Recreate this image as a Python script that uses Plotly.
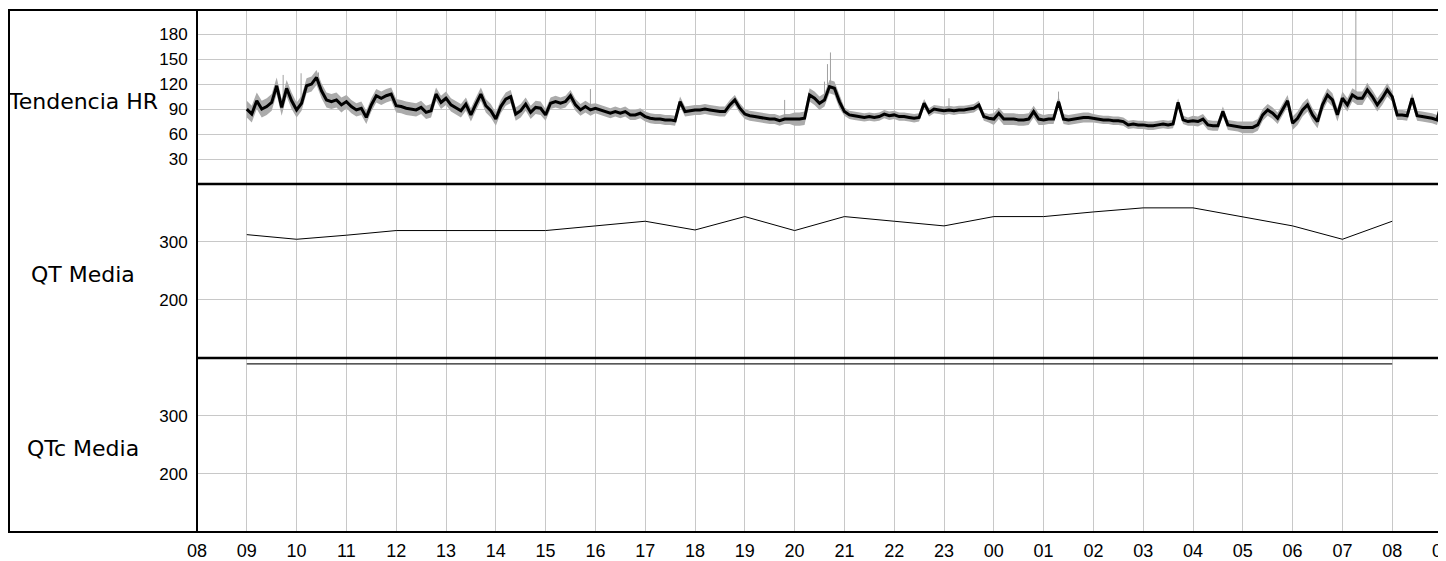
import numpy as np
import plotly.graph_objects as go

# ---------------- data ----------------
hour_labels = ["08", "09", "10", "11", "12", "13", "14", "15", "16", "17", "18", "19",
               "20", "21", "22", "23", "00", "01", "02", "03", "04", "05", "06", "07",
               "08", "09"]

# smoothed HR trend, one value every 6 minutes from 09:00 to 09:00 (next day)
hr_start_hour = 1.0      # hours after 08:00
hr_step_hour = 0.1
hr_mean = [
    90, 84, 100, 90, 93, 98, 118, 92, 115, 100,
    89, 97, 118, 120, 128, 112, 101, 99, 101, 95,
    99, 93, 89, 91, 80, 95, 106, 103, 106, 108,
    94, 93, 91, 90, 89, 92, 86, 88, 108, 98,
    103, 95, 92, 88, 96, 83, 96, 108, 94, 88,
    78, 93, 102, 105, 84, 88, 96, 86, 92,
    91, 83, 97, 99, 97, 99, 106, 95, 89, 93,
    89, 91, 89, 87, 85, 87, 85, 87, 83, 83,
    85, 81, 79, 78, 78, 77, 77, 76, 99, 87,
    88, 89, 89, 90, 89, 88, 87, 87, 95, 101,
    91, 84, 82, 81, 80, 79, 78, 78, 76, 78,
    78, 78, 78, 79, 107, 103, 97, 101, 117,
    115, 99, 87, 83, 82, 81, 80, 81, 80, 81,
    84, 82, 83, 81, 81, 80, 79, 80, 97, 86,
    90, 89, 88, 89, 88, 89, 89, 90, 91, 95,
    81, 79, 78, 85, 78, 78, 78, 77, 77, 78,
    87, 78, 77, 78, 78, 99, 78, 77, 78, 79,
    80, 80, 79, 78, 77, 77, 76, 76, 75, 71,
    72, 71,
    71, 70, 70, 71, 72, 71, 72, 98, 77, 75,
    76, 75, 78, 71, 70, 70, 87, 71, 70, 69,
    68, 68, 68, 71, 83, 89, 85, 79, 89, 100,
    73, 79, 89, 95, 83, 75, 95, 107, 101, 83,
    103, 95, 107, 103, 103, 113, 105, 95, 103, 113,
    105, 83, 83, 82, 103, 82, 81, 80, 79, 77,
    99,
]

# half-width of the grey beat-to-beat scatter, per hour (09..08)
hr_spread = [10, 9, 8, 8, 8, 8, 7, 6, 6, 6, 6, 8,
             5, 5, 5, 7, 6, 5, 5, 6, 7, 8, 8, 6]

# isolated tall grey beat-to-beat spikes (hour after 08:00, top value)
spike_hours = [1.73, 2.09, 2.44, 7.9, 11.8, 12.6, 12.66, 12.72, 15.1, 17.3, 23.27, 23.5]
spike_tops = [131, 133, 134, 114, 101, 123, 144, 158, 103, 111, 209, 121]

qt_hours = list(range(1, 25))   # 09 .. 08
qt_values = [312, 304, 311, 319, 319, 319, 319, 327, 335, 320, 343, 319,
             343, 335, 327, 343, 343, 351, 358, 358, 343, 327, 304, 335]
qtc_values = [389] * 24

# ---------------- figure ----------------
t_hr = hr_start_hour + hr_step_hour * np.arange(len(hr_mean))
hr_arr = np.array(hr_mean, dtype=float)
spread_arr = np.array([hr_spread[min(int(round((tt - 1.0) * 10)) // 10, 23)] for tt in t_hr], dtype=float)

fig = go.Figure()

# grey band (beat-to-beat HR)
fig.add_trace(go.Scatter(x=t_hr, y=hr_arr + spread_arr, mode="lines",
                         line=dict(width=0, color="#a8a8a8"), hoverinfo="skip",
                         showlegend=False, xaxis="x", yaxis="y"))
fig.add_trace(go.Scatter(x=t_hr, y=hr_arr - spread_arr, mode="lines",
                         line=dict(width=0, color="#a8a8a8"), fill="tonexty",
                         fillcolor="#ababab", hoverinfo="skip",
                         showlegend=False, xaxis="x", yaxis="y"))

# grey spikes
sx, sy = [], []
for h, top in zip(spike_hours, spike_tops):
    idx = int(round((h - hr_start_hour) / hr_step_hour))
    idx = max(0, min(idx, len(hr_mean) - 1))
    sx += [h, h, None]
    sy += [hr_mean[idx], top, None]
fig.add_trace(go.Scatter(x=sx, y=sy, mode="lines", line=dict(width=1, color="#a0a0a0"),
                         hoverinfo="skip", showlegend=False, xaxis="x", yaxis="y"))

# black HR trend
fig.add_trace(go.Scatter(x=t_hr, y=hr_arr, mode="lines", line=dict(width=3, color="black"),
                         showlegend=False, xaxis="x", yaxis="y"))

# QT
fig.add_trace(go.Scatter(x=qt_hours, y=qt_values, mode="lines", line=dict(width=1, color="black"),
                         showlegend=False, xaxis="x", yaxis="y2"))
# QTc
fig.add_trace(go.Scatter(x=qt_hours, y=qtc_values, mode="lines", line=dict(width=1.2, color="#222222"),
                         showlegend=False, xaxis="x", yaxis="y3"))

# the page has an 8px body margin, so the figure is sized to fill the remaining window
FIG_W, FIG_H = 1438, 553
M_L, M_R, M_T, M_B = 189, 4, 2, 29
plot_w = FIG_W - M_L - M_R
plot_h = FIG_H - M_T - M_B

grid_c = "#c8c8c8"
tick_font = dict(family="Liberation Sans, Arial, sans-serif", size=17, color="black")
yax_common = dict(showgrid=True, gridcolor=grid_c, gridwidth=1, zeroline=False, showline=False,
                  ticks="outside", ticklen=5, tickcolor="rgba(0,0,0,0)", tickfont=tick_font,
                  fixedrange=True, automargin=False)

fig.update_layout(
    width=FIG_W, height=FIG_H,
    margin=dict(l=M_L, r=M_R, t=M_T, b=M_B, autoexpand=False),
    paper_bgcolor="white", plot_bgcolor="white",
    showlegend=False,
    xaxis=dict(range=[0, 25], tickmode="array", tickvals=list(range(len(hour_labels))),
               ticktext=hour_labels, showgrid=True, gridcolor=grid_c, gridwidth=1,
               zeroline=False, showline=False, ticks="outside", ticklen=2,
               tickcolor="rgba(0,0,0,0)", ticklabeloverflow="allow", automargin=False,
               tickfont=dict(family="Liberation Sans, Arial, sans-serif", size=18, color="black"),
               anchor="y3", domain=[0, 1]),
    yaxis=dict(domain=[2 / 3, 1], range=[0, 209], tickmode="array",
               tickvals=[30, 60, 90, 120, 150, 180], **yax_common),
    yaxis2=dict(domain=[1 / 3, 2 / 3], range=[100, 399], tickmode="array",
                tickvals=[200, 300], anchor="x", **yax_common),
    yaxis3=dict(domain=[0, 1 / 3], range=[100, 399], tickmode="array",
                tickvals=[200, 300], anchor="x", **yax_common),
)

x_left = (1 - M_L) / plot_w
shapes = [
    dict(type="rect", xref="paper", yref="paper", x0=x_left, x1=1, y0=0, y1=1,
         line=dict(color="black", width=2)),
    dict(type="line", xref="paper", yref="paper", x0=0, x1=0, y0=0, y1=1,
         line=dict(color="black", width=2)),
    dict(type="line", xref="paper", yref="paper", x0=0, x1=1, y0=2 / 3, y1=2 / 3,
         line=dict(color="black", width=2.5)),
    dict(type="line", xref="paper", yref="paper", x0=0, x1=1, y0=1 / 3, y1=1 / 3,
         line=dict(color="black", width=2.5)),
]
fig.update_layout(shapes=shapes)

label_font = dict(family="DejaVu Sans, Verdana, sans-serif", size=22, color="black")
lab_x = (75 - M_L) / plot_w
for text, ypx in [("Tendencia HR", 93), ("QT Media", 266), ("QTc Media", 440)]:
    fig.add_annotation(text=text, xref="paper", yref="paper", x=lab_x,
                       y=(M_T + plot_h - ypx) / plot_h, xanchor="center", yanchor="middle",
                       showarrow=False, font=label_font)

fig.write_html("out.html")
